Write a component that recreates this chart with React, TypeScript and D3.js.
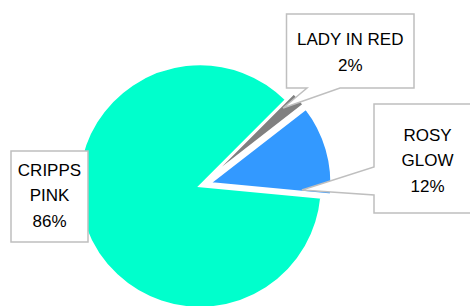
import * as React from "react";
import * as d3 from "d3";

// chart data
const categories = ["CRIPPS PINK", "LADY IN RED", "ROSY GLOW"];
const values = [86, 2, 12];
const colors = ["#00FFCC", "#808080", "#3399FF"];
// label lines as shown in the callouts
const labelLines = [["CRIPPS", "PINK"], ["LADY IN RED"], ["ROSY", "GLOW"]];

export default class App extends React.Component<any, any> {
  width = 470;
  height = 306;
  cx = 200;
  cy = 186;
  radius = 122;
  startDeg = 95.4;
  explode = [0, 10, 10];
  // callout boxes: x, y, w, h, pointer (tip angle deg, tip radius, base points)
  callouts: any[] = [
    { x: 11, y: 151, w: 77, h: 91, textY: 175.5, pointer: null },
    { x: 286.5, y: 14, w: 127.5, h: 74, textY: 45, pointer: { side: "bottom", a: 307, b: 340, tipDeg: 46.8, tipR: 114 } },
    { x: 374, y: 104, w: 107, h: 109, textY: 140.5, pointer: { side: "left", a: 167, b: 195, tipDeg: 92.2, tipR: 102 } },
  ];
  lineH = 25.5;
  ref = React.createRef<SVGSVGElement>();

  componentDidMount() {
    this.drawChart();
  }

  drawChart() {
    const svg = d3.select(this.ref.current);
    svg.selectAll("*").remove();

    const start = (this.startDeg * Math.PI) / 180;
    const pie = d3.pie<number>().sort(null).value((d) => d).startAngle(start).endAngle(start + 2 * Math.PI);
    const arcs = pie(values);
    const arc = d3.arc<any>().innerRadius(0).outerRadius(this.radius);

    const g = svg.append("g").attr("transform", "translate(" + this.cx + "," + this.cy + ")");

    g.selectAll("path.slice")
      .data(arcs)
      .enter()
      .append("path")
      .attr("class", "slice")
      .attr("d", arc)
      .attr("fill", (d, i) => colors[i])
      .attr("stroke", "#fff")
      .attr("stroke-width", 2.5)
      .attr("stroke-linejoin", "miter")
      .attr("transform", (d, i) => {
        const mid = (d.startAngle + d.endAngle) / 2;
        const off = this.explode[i];
        return "translate(" + off * Math.sin(mid) + "," + -off * Math.cos(mid) + ")";
      });

    const total = d3.sum(values);
    const fmt = (v: number) => Math.round((v / total) * 100) + "%";

    // callouts
    this.callouts.forEach((c, i) => {
      let path = "";
      const x0 = c.x, y0 = c.y, x1 = c.x + c.w, y1 = c.y + c.h;
      const p = c.pointer;
      if (!p) {
        path = `M${x0},${y0}H${x1}V${y1}H${x0}Z`;
      } else {
        const t = (p.tipDeg * Math.PI) / 180;
        const tx = this.cx + p.tipR * Math.sin(t);
        const ty = this.cy - p.tipR * Math.cos(t);
        if (p.side === "bottom") {
          path = `M${x0},${y0}H${x1}V${y1}H${p.b}L${tx},${ty}L${p.a},${y1}H${x0}Z`;
        } else {
          path = `M${x0},${y0}H${x1}V${y1}H${x0}V${p.b}L${tx},${ty}L${x0},${p.a}Z`;
        }
      }
      svg.append("path")
        .attr("d", path)
        .attr("fill", "#fff")
        .attr("stroke", "#BFBFBF")
        .attr("stroke-width", 1.5)
        .attr("stroke-linejoin", "miter");

      const lines = labelLines[i].concat([fmt(values[i])]);
      const text = svg.append("text")
        .attr("text-anchor", "middle")
        .attr("font-family", "'Liberation Sans', Arial, sans-serif")
        .attr("font-size", 17)
        .attr("fill", "#000");
      lines.forEach((l, j) => {
        text.append("tspan")
          .attr("x", c.x + c.w / 2)
          .attr("y", c.textY + j * this.lineH)
          .text(l);
      });
    });
  }

  render(): any {
    return (
      <svg
        ref={this.ref}
        width={this.width}
        height={this.height}
        style={{ position: "absolute", left: 0, top: 0, background: "#fff" }}
      />
    );
  }
}
